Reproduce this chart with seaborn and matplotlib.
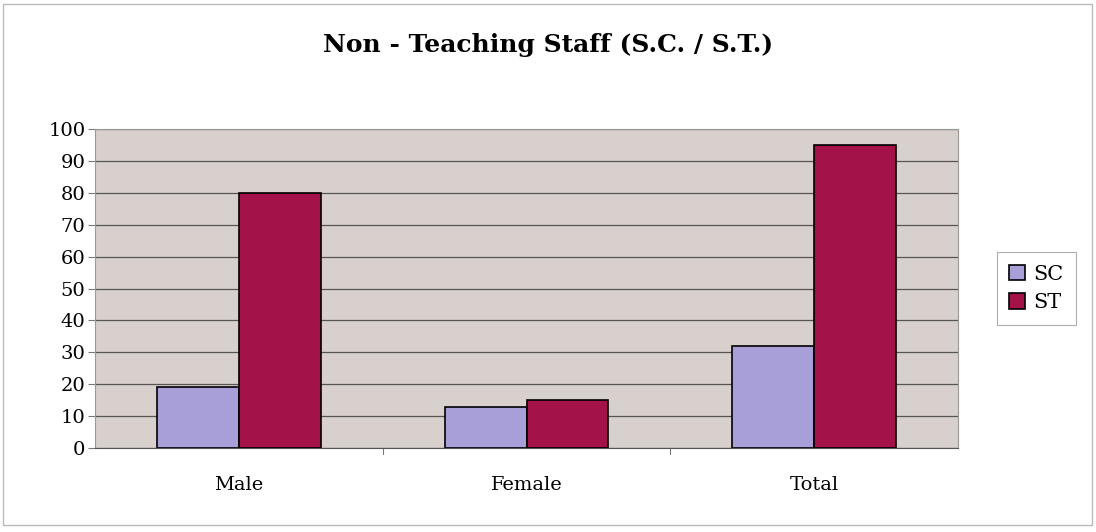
import seaborn as sns
import matplotlib.pyplot as plt
import pandas as pd
from matplotlib.patches import Rectangle

categories = ["Male", "Female", "Total"]
series = ["SC", "ST"]
sc_values = [19, 13, 32]
st_values = [80, 15, 95]
y_ticks = list(range(0, 101, 10))

df = pd.DataFrame({
    "Category": categories * 2,
    "Group": ["SC"] * 3 + ["ST"] * 3,
    "Count": sc_values + st_values,
})

sns.set_style("white")
plt.rcParams["font.family"] = ["DejaVu Serif"]
plt.rcParams["text.color"] = "black"
plt.rcParams["xtick.color"] = "black"
plt.rcParams["ytick.color"] = "black"

fig = plt.figure(figsize=(10.96, 5.32), dpi=100)
ax = fig.add_axes([95 / 1096, 1 - 448 / 532, 863 / 1096, 319 / 532])

palette = {"SC": "#a99fd8", "ST": "#a3134a"}
sns.barplot(data=df, x="Category", y="Count", hue="Group", palette=palette,
            width=0.57, gap=0, edgecolor="black", linewidth=1.2, saturation=1,
            ax=ax, zorder=3)

ax.set_facecolor("#d8d0cc")
ax.set_ylim(0, 100)
ax.set_xlim(-0.5, 2.5)
ax.set_yticks(y_ticks)
ax.yaxis.grid(True, color="#555555", linewidth=0.9, zorder=0)
ax.set_axisbelow(True)
ax.set_xlabel("")
ax.set_ylabel("")
ax.tick_params(axis="y", labelsize=14, length=5, width=0.8, color="#777777", left=True, pad=2,
               labelcolor="black")
ax.tick_params(axis="x", labelsize=14, length=0, pad=20, labelcolor="black")
for s in ax.spines.values():
    s.set_color("#999999")
    s.set_linewidth(0.8)
ax.spines["bottom"].set_color("#555555")
for xb in [0.5, 1.5]:
    ax.plot([xb, xb], [0, -2], color="#777777", lw=0.8, clip_on=False)

leg = ax.legend(loc="center left", bbox_to_anchor=(1.045, 0.5), frameon=True, borderaxespad=0,
                fontsize=15, handlelength=0.75, handleheight=0.75, handletextpad=0.4,
                borderpad=0.6, labelspacing=0.45, fancybox=False)
leg.get_frame().set_edgecolor("#999999")
leg.get_frame().set_linewidth(0.8)

fig.text(0.5, 1 - 45 / 532, "Non - Teaching Staff (S.C. / S.T.)", ha="center", va="center",
         fontsize=18, fontweight="bold", color="black")

fig.patches.append(Rectangle((3 / 1096, 7 / 532), 1089 / 1096, 521 / 532, transform=fig.transFigure,
                             fill=False, edgecolor="#bbbbbb", linewidth=1))

plt.savefig("out.png", dpi=100)
